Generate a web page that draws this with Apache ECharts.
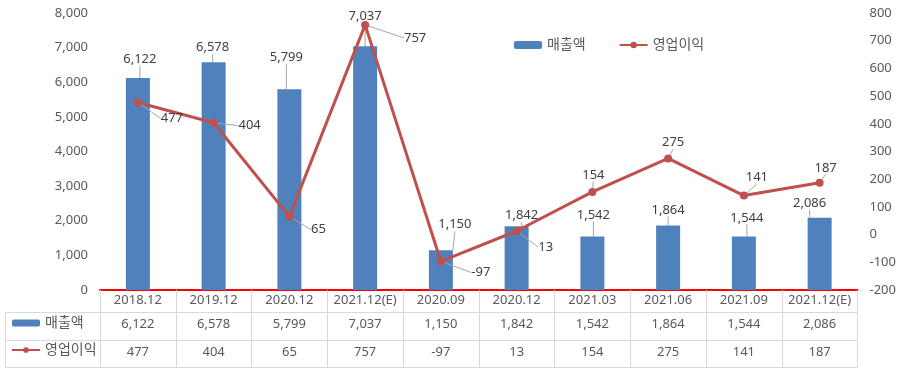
<!DOCTYPE html>
<html>
<head>
<meta charset="utf-8">
<script src="https://cdn.jsdelivr.net/npm/echarts@6/dist/echarts.min.js"></script>
<style>html,body{margin:0;padding:0;background:#fff}#c{width:907px;height:377px}</style>
</head>
<body>
<div id="c"></div>
<script>
const categories = ['2018.12','2019.12','2020.12','2021.12(E)','2020.09','2020.12','2021.03','2021.06','2021.09','2021.12(E)'];
const sales = [6122, 6578, 5799, 7037, 1150, 1842, 1542, 1864, 1544, 2086];
const profit = [477, 404, 65, 757, -97, 13, 154, 275, 141, 187];
const salesTicks = [0, 1000, 2000, 3000, 4000, 5000, 6000, 7000, 8000];
const profitTicks = [-200, -100, 0, 100, 200, 300, 400, 500, 600, 700, 800];

// label nudges (style only)
const barLabelShift = [[2,-7],[-1,-3],[-3,-20],[0,-19],[14,-14],[5,1],[1,-10],[0,-4],[3,-7],[-10,-3]];
const lineLabelShift = [[34,16],[36,3],[29,13],[50,13],[40,11],[29,16],[1,-17],[5,-16],[13,-18],[6,-15]];

const FONT = '"Noto Sans", "Noto Sans CJK KR", sans-serif';
const fmt = v => v.toLocaleString('en-US');
const GRID_LINE = '#D9D9D9';
const TXT = '#595959';

const chart = echarts.init(document.getElementById('c'));
const tickLine = {color: GRID_LINE, width: 1};
const baseX = {type: 'category', data: categories, position: 'bottom', gridIndex: 0};

chart.setOption({
  animation: false,
  textStyle: {fontFamily: FONT},
  grid: {left: 100, right: 49.5, top: 13, bottom: 87},
  legend: [
    {left: 509, top: 33, itemWidth: 28, itemHeight: 8, itemGap: 33,
     textStyle: {fontSize: 14, color: TXT, fontFamily: FONT},
     data: ['매출액', '영업이익']},
    {left: 6, top: 311, orient: 'vertical', itemWidth: 28, itemHeight: 7, itemGap: 13,
     textStyle: {fontSize: 14, color: TXT, fontFamily: FONT},
     data: ['매출액', '영업이익']}
  ],
  xAxis: [
    Object.assign({}, baseX, {offset: 0,
     axisLine: {show: true, onZero: false, lineStyle: {color: '#FF0000', width: 2}},
     axisTick: {show: true, length: 22, interval: 0, lineStyle: tickLine},
     axisLabel: {interval: 0, margin: 4, fontSize: 13, color: TXT, fontFamily: FONT}}),
    Object.assign({}, baseX, {offset: 22,
     axisLine: {show: true, onZero: false, lineStyle: {color: GRID_LINE, width: 1}},
     axisTick: {show: true, length: 28, interval: 0, lineStyle: tickLine},
     axisLabel: {interval: 0, margin: 6, fontSize: 13, color: TXT, fontFamily: FONT,
       formatter: (v, i) => fmt(sales[i])}}),
    Object.assign({}, baseX, {offset: 50,
     axisLine: {show: true, onZero: false, lineStyle: {color: GRID_LINE, width: 1}},
     axisTick: {show: true, length: 27, interval: 0, lineStyle: tickLine},
     axisLabel: {interval: 0, margin: 6, fontSize: 13, color: TXT, fontFamily: FONT,
       formatter: (v, i) => fmt(profit[i])}}),
    Object.assign({}, baseX, {offset: 77,
     axisLine: {show: true, onZero: false, lineStyle: {color: GRID_LINE, width: 1}},
     axisTick: {show: false}, axisLabel: {show: false}})
  ],
  yAxis: [
    {type: 'value', min: salesTicks[0], max: salesTicks[salesTicks.length-1], interval: 1000,
     splitLine: {show: false}, axisLine: {show: false, onZero: false}, axisTick: {show: false},
     axisLabel: {margin: 12, fontSize: 13, color: TXT, fontFamily: FONT, formatter: v => fmt(v)}},
    {type: 'value', min: profitTicks[0], max: profitTicks[profitTicks.length-1], interval: 100,
     splitLine: {show: false}, axisLine: {show: false, onZero: false}, axisTick: {show: false},
     axisLabel: {margin: 12, fontSize: 13, color: TXT, fontFamily: FONT, formatter: v => fmt(v)}}
  ],
  series: [
    {name: '매출액', type: 'bar', data: sales, barWidth: 24, xAxisIndex: 0, yAxisIndex: 0,
     itemStyle: {color: '#4F81BD'},
     label: {show: true, position: 'top', distance: 5, fontSize: 13, color: '#404040', fontFamily: FONT,
       formatter: p => fmt(p.value)},
     labelLine: {show: true, lineStyle: {color: '#A6A6A6', width: 1}},
     labelLayout: p => ({dx: barLabelShift[p.dataIndex][0], dy: barLabelShift[p.dataIndex][1]}),
     z: 2},
    {name: '영업이익', type: 'line', data: profit, xAxisIndex: 0, yAxisIndex: 1,
     symbol: 'circle', symbolSize: 8,
     lineStyle: {color: '#C0504D', width: 3}, itemStyle: {color: '#C0504D'},
     label: {show: true, position: 'inside', fontSize: 13, color: '#404040', fontFamily: FONT,
       formatter: p => fmt(p.value)},
     labelLine: {show: true, lineStyle: {color: '#A6A6A6', width: 1}},
     labelLayout: p => ({dx: lineLabelShift[p.dataIndex][0], dy: lineLabelShift[p.dataIndex][1]}),
     z: 3}
  ],
  graphic: [
    {type: 'polyline', shape: {points: [[100.5, 312.5], [5.5, 312.5], [5.5, 367.5], [100.5, 367.5]]},
     style: {stroke: GRID_LINE, lineWidth: 1, fill: null}, silent: true},
    {type: 'line', shape: {x1: 5.5, y1: 340.5, x2: 100.5, y2: 340.5},
     style: {stroke: GRID_LINE, lineWidth: 1}, silent: true}
  ]
});
</script>
</body>
</html>
